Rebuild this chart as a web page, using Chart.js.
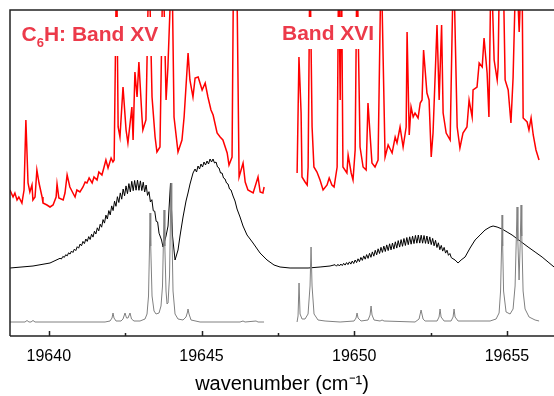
<!DOCTYPE html>
<html><head><meta charset="utf-8">
<script src="https://cdn.jsdelivr.net/npm/chart.js@4/dist/chart.umd.min.js"></script>
<style>html,body{margin:0;padding:0;background:#fff}#wrap{width:554px;height:396px}</style>
</head><body><div id="wrap"><canvas id="c" width="554" height="396"></canvas></div>
<script>
// ---- axis ----
const xMin = 19638.73, xMax = 19656.54;
const majorTicks = [19640, 19645, 19650, 19655];
const minorTicks = [19642.5, 19647.5, 19652.5];
const xTitle = 'wavenumber (cm\u207B\u00B9)';
const bandLabels = ['Band XV', 'Band XVI'];

// ---- experimental spectrum (red), band XV segment ----
const expXV_x = [19638.73,19638.83,19638.89,19638.96,19639.02,19639.12,19639.19,19639.25,19639.32,19639.38,
19639.45,19639.48,19639.55,19639.61,19639.68,19639.78,19639.81,19639.94,19640.04,19640.14,
19640.24,19640.27,19640.33,19640.47,19640.53,19640.60,19640.69,19640.79,19640.86,19640.92,
19641.02,19641.12,19641.19,19641.25,19641.32,19641.42,19641.48,19641.58,19641.64,19641.74,
19641.81,19641.87,19641.94,19642.04,19642.10,19642.14,19642.22,19642.27,19642.33,19642.43,
19642.53,19642.59,19642.72,19642.76,19642.82,19642.89,19642.95,19643.05,19643.08,19643.18,
19643.28,19643.38,19643.48,19643.54,19643.64,19643.74,19643.84,19643.90,19644.03,19644.10,
19644.23,19644.36,19644.43,19644.56,19644.62,19644.72,19644.79,19644.89,19645.02,19645.12,
19645.21,19645.31,19645.38,19645.51,19645.61,19645.70,19645.84,19645.90,19646.00,19646.05,
19646.15,19646.23,19646.36,19646.43,19646.52,19646.69,19646.85,19646.92,19647.01,19647.05];
const expXV_y = [146,139,143,136,139,133,146,216,153,144,
151,136,139,166,153,139,133,131,129,131,
139,152,138,136,143,161,149,143,139,146,
144,149,154,153,158,153,159,156,164,161,
169,176,168,178,174,176,380,209,199,249,
206,193,229,196,264,239,274,219,206,216,
380,239,199,184,189,380,236,269,380,219,
184,196,219,283,256,239,258,259,246,253,
239,226,221,203,199,196,183,171,179,380,
380,159,173,154,146,143,159,144,143,149];

// ---- experimental spectrum (red), band XVI segment ----
const expXVI_x = [19648.13,19648.19,19648.26,19648.29,19648.39,19648.46,19648.49,19648.55,19648.62,19648.68,
19648.78,19648.88,19648.98,19649.11,19649.18,19649.27,19649.34,19649.44,19649.49,19649.54,
19649.58,19649.63,19649.76,19649.80,19649.90,19649.96,19650.03,19650.09,19650.19,19650.29,
19650.39,19650.45,19650.58,19650.68,19650.78,19650.88,19651.01,19651.11,19651.24,19651.34,
19651.40,19651.50,19651.60,19651.70,19651.73,19651.80,19651.86,19651.93,19651.99,19652.09,
19652.16,19652.22,19652.27,19652.38,19652.45,19652.52,19652.58,19652.71,19652.78,19652.86,
19652.91,19653.01,19653.14,19653.25,19653.37,19653.46,19653.56,19653.69,19653.76,19653.86,
19653.89,19654.02,19654.09,19654.19,19654.25,19654.35,19654.41,19654.48,19654.58,19654.68,
19654.71,19654.76,19654.87,19654.94,19655.04,19655.13,19655.20,19655.30,19655.40,19655.49,
19655.53,19655.66,19655.72,19655.79,19655.86,19655.95,19656.05];
const expXVI_y = [163,279,223,159,154,151,169,380,209,169,
164,156,146,151,158,151,149,169,380,236,
380,169,163,181,163,156,186,380,189,169,
166,233,173,169,176,380,179,191,183,199,
193,209,189,209,304,201,229,219,223,218,
233,236,286,243,236,179,203,311,236,311,
223,203,196,380,209,188,203,209,236,219,
246,249,273,269,298,263,219,380,276,256,
269,380,380,256,246,213,258,380,304,380,
218,214,206,218,201,186,176];

// ---- simulated contour (black) ----
const simPre_x = [19638.73, 19639.483, 19640.04];
const simPre_y = [68, 70, 73];
// P-branch of band XV, sampled every simStep starting at simXV_start
const simStep = 0.04699;
const simXV_start = 19640.367;
const simXV_y = [77.7,77.0,79.6,78.6,81.3,80.1,83.2,81.9,85.0,83.5,
86.9,85.4,89.3,87.8,92.0,90.2,94.6,92.4,97.0,94.6,
99.4,96.5,101.8,98.9,104.8,102.0,108.2,105.1,111.8,108.8,
116.4,112.9,120.9,117.0,125.4,121.1,130.1,125.4,134.8,129.7,
139.3,133.5,143.1,136.8,147.0,140.2,150.1,142.3,152.4,144.1,
154.7,145.3,155.5,145.8,156.0,145.7,155.1,145.4,153.8,144.0,
151.0,140.6,144.3,134.0,136.3,125.2,124.8,114.7,114.1,102.8];
const simMid_x = [19643.691,19643.740,19643.838,19643.904,19643.985,19644.051,19644.133,19644.231,19644.296,19644.395,
19644.493,19644.558,19644.624,19644.722,19644.788,19644.837,19644.886,19644.935,19644.984,19645.033,
19645.082,19645.131,19645.181,19645.230,19645.279,19645.328,19645.377,19645.426,19645.475,19645.524,
19645.573,19645.623,19645.672,19645.721,19645.770,19645.819,19645.868,19645.917,19645.966,19646.032,
19646.097,19646.163,19646.261,19646.359,19646.490,19646.589,19646.687,19646.916,19647.145,19647.374,
19647.571,19647.898,19648.488,19648.881,19649.208];
const simMid_y = [96,89,100,110,153,100,76,86,100,119,
135,143,152,163,167,164,170,167,172,169,
174,171,175,172,177,174,177,173,174,169,
168,163,163,158,157,153,152,147,146,140,
135,127,119,110,101,97,93,83,76,71,
69,68,68,69,70];
// P-branch of band XVI
const simXVI_start = 19649.372;
const simXVI_y = [71.3,69.8,71.7,70.0,72.0,70.4,72.7,70.9,73.4,71.4,
74.1,71.9,75.0,72.5,76.0,73.4,77.2,74.3,78.6,75.6,
80.1,76.8,81.4,77.6,82.7,78.7,84.1,79.8,85.7,81.2,
87.2,82.5,88.7,83.6,89.9,84.5,91.1,85.4,92.2,86.1,
93.0,86.9,94.2,87.9,95.4,88.9,96.4,89.7,97.5,90.5,
98.5,91.3,99.2,91.8,99.9,92.4,100.6,92.8,101.0,92.9,
100.8,92.8,100.5,92.6,100.0,92.2,99.1,91.4,97.6,90.2,
95.7,88.5,93.2,86.3,90.6,84.9,88.6,82.9,85.8,80.7,
82.5,78.3];
const simPost_x = [19653.301,19653.399,19653.498,19653.629,19653.792,19653.956,19654.120,19654.283,19654.447,19654.545,
19654.676,19654.840,19655.004,19655.168,19655.429,19655.691,19655.921,19656.150,19656.346,19656.543];
const simPost_y = [76,73,76,79,88,96,101,106,109,110,109,107,104,101,95,89,84,79,74,69];

// ---- stick / line spectrum (gray) ----
const lineXV_x = [19638.730,19639.221,19639.287,19639.352,19639.418,19639.483,19639.549,19641.841,19642.004,19642.070,
19642.103,19642.135,19642.201,19642.365,19642.430,19642.496,19642.545,19642.594,19642.659,19642.708,
19642.790,19642.987,19643.150,19643.216,19643.265,19643.298,19643.314,19643.337,19643.380,19643.445,
19643.511,19643.609,19643.674,19643.723,19643.756,19643.773,19643.799,19643.838,19643.871,19643.904,
19643.953,19643.985,19644.002,19644.025,19644.067,19644.133,19644.231,19644.395,19644.493,19644.542,
19644.558,19644.591,19644.657,19644.951,19646.261,19646.359,19646.425,19646.785,19646.851,19647.047];
const lineXV_y = [14,14,15.5,14,14,15.5,14,14,15,18,
23,18,15,15,17,23,18,18,23,17,
15,15,17,22,40,90,123,90,40,25,
22,23,30,50,100,126,90,45,32,33,
60,120,153,115,45,22,17,16,19,24,
27,22,16,14,14,15,14,15,14,14];
const lineXVI_x = [19648.128,19648.160,19648.193,19648.226,19648.291,19648.389,19648.488,19648.553,19648.586,19648.619,
19648.684,19648.815,19649.044,19649.536,19649.994,19650.059,19650.092,19650.125,19650.223,19650.452,
19650.518,19650.551,19650.583,19650.649,19650.845,19650.911,19650.976,19651.991,19652.122,19652.188,
19652.253,19652.319,19652.712,19652.777,19652.810,19652.843,19652.941,19653.170,19653.236,19653.268,
19653.301,19653.399,19654.447,19654.644,19654.742,19654.791,19654.824,19654.840,19654.860,19654.889,
19654.971,19655.102,19655.200,19655.266,19655.308,19655.331,19655.357,19655.397,19655.436,19655.462,
19655.485,19655.528,19655.593,19655.724,19655.921,19656.052];
const lineXVI_y = [14,20,53,22,17,17,22,50,89,50,
22,16,15,14,15,18,23,18,15,16,
21,30,21,16,15,16,15,14,17,26,
17,15,15,19,27,19,15,15,19,27,
19,15,15,17,23,45,90,121,90,45,
24,22,27,50,100,129,95,56,95,131,
100,45,27,19,16,15];

// ---- build points ----
const zip = (xs, ys) => xs.map((x, i) => ({x, y: ys[i]}));
const grid = (x0, step, ys) => ys.map((y, i) => ({x: x0 + i * step, y}));
const simPoints = [].concat(
  zip(simPre_x, simPre_y),
  grid(simXV_start, simStep, simXV_y),
  zip(simMid_x, simMid_y),
  grid(simXVI_start, simStep, simXVI_y),
  zip(simPost_x, simPost_y)
);

const FONT = "'Liberation Sans', Arial, Helvetica, sans-serif";
const RED = 'rgb(255,0,0)';
const LABEL_RED = 'rgb(236,58,74)';

const line = (data, color, width) => ({
  data, borderColor: color, borderWidth: width, pointRadius: 0,
  tension: 0, fill: false, clip: 0, parsing: false
});

const framePlugin = {
  id: 'frame',
  afterDraw(chart) {
    const {ctx, chartArea: a, scales: {x}} = chart;
    ctx.save();
    ctx.strokeStyle = '#222';
    ctx.lineWidth = 1.5;
    ctx.beginPath();
    ctx.moveTo(a.left, a.bottom); ctx.lineTo(a.left, a.top); ctx.lineTo(a.right, a.top);
    ctx.moveTo(a.left, a.bottom); ctx.lineTo(a.right, a.bottom);
    majorTicks.forEach(v => { const p = Math.round(x.getPixelForValue(v)) + 0.5; ctx.moveTo(p, a.bottom); ctx.lineTo(p, a.bottom - 5); });
    minorTicks.forEach(v => { const p = Math.round(x.getPixelForValue(v)) + 0.5; ctx.moveTo(p, a.bottom); ctx.lineTo(p, a.bottom - 3); });
    ctx.stroke();
    ctx.restore();
  }
};

const labelPlugin = {
  id: 'bandLabels',
  afterDatasetsDraw(chart) {
    const {ctx} = chart;
    ctx.save();
    ctx.fillStyle = '#fff';
    ctx.fillRect(15, 17, 152, 39);
    ctx.fillRect(279, 17, 98, 32);
    ctx.fillStyle = LABEL_RED;
    ctx.textBaseline = 'alphabetic';
    ctx.textAlign = 'left';
    const big = 'bold 21px ' + FONT, small = 'bold 13px ' + FONT;
    let x = 21.5;
    ctx.font = big; ctx.fillText('C', x, 41); x += ctx.measureText('C').width;
    ctx.font = small; ctx.fillText('6', x, 47); x += ctx.measureText('6').width;
    ctx.font = big; ctx.fillText('H: ' + bandLabels[0], x, 41);
    ctx.fillText(bandLabels[1], 282, 40);
    ctx.restore();
  }
};

new Chart(document.getElementById('c'), {
  type: 'line',
  data: {
    datasets: [
      line(zip(lineXV_x, lineXV_y), 'rgb(128,128,128)', 1),
      line(zip(lineXVI_x, lineXVI_y), 'rgb(128,128,128)', 1),
      line(simPoints, '#000', 1),
      line(zip(expXV_x, expXV_y), RED, 1.5),
      line(zip(expXVI_x, expXVI_y), RED, 1.5)
    ]
  },
  options: {
    responsive: false,
    animation: false,
    devicePixelRatio: 1,
    layout: {padding: {left: 10, top: 10, right: 0, bottom: 0}},
    plugins: {legend: {display: false}, tooltip: {enabled: false}},
    scales: {
      x: {
        type: 'linear', min: xMin, max: xMax,
        afterBuildTicks: s => { s.ticks = majorTicks.map(v => ({value: v})); },
        afterFit: s => { s.height = 60; },
        grid: {display: false, drawTicks: false},
        border: {display: false},
        ticks: {callback: v => String(v), color: '#000', font: {family: FONT, size: 16}, padding: 11, maxRotation: 0, autoSkip: false},
        title: {display: true, text: xTitle, color: '#000', font: {family: FONT, size: 20}, padding: {top: 0, bottom: 0}}
      },
      y: {display: false, min: 0, max: 326}
    }
  },
  plugins: [labelPlugin, framePlugin]
});
</script>
</body></html>
